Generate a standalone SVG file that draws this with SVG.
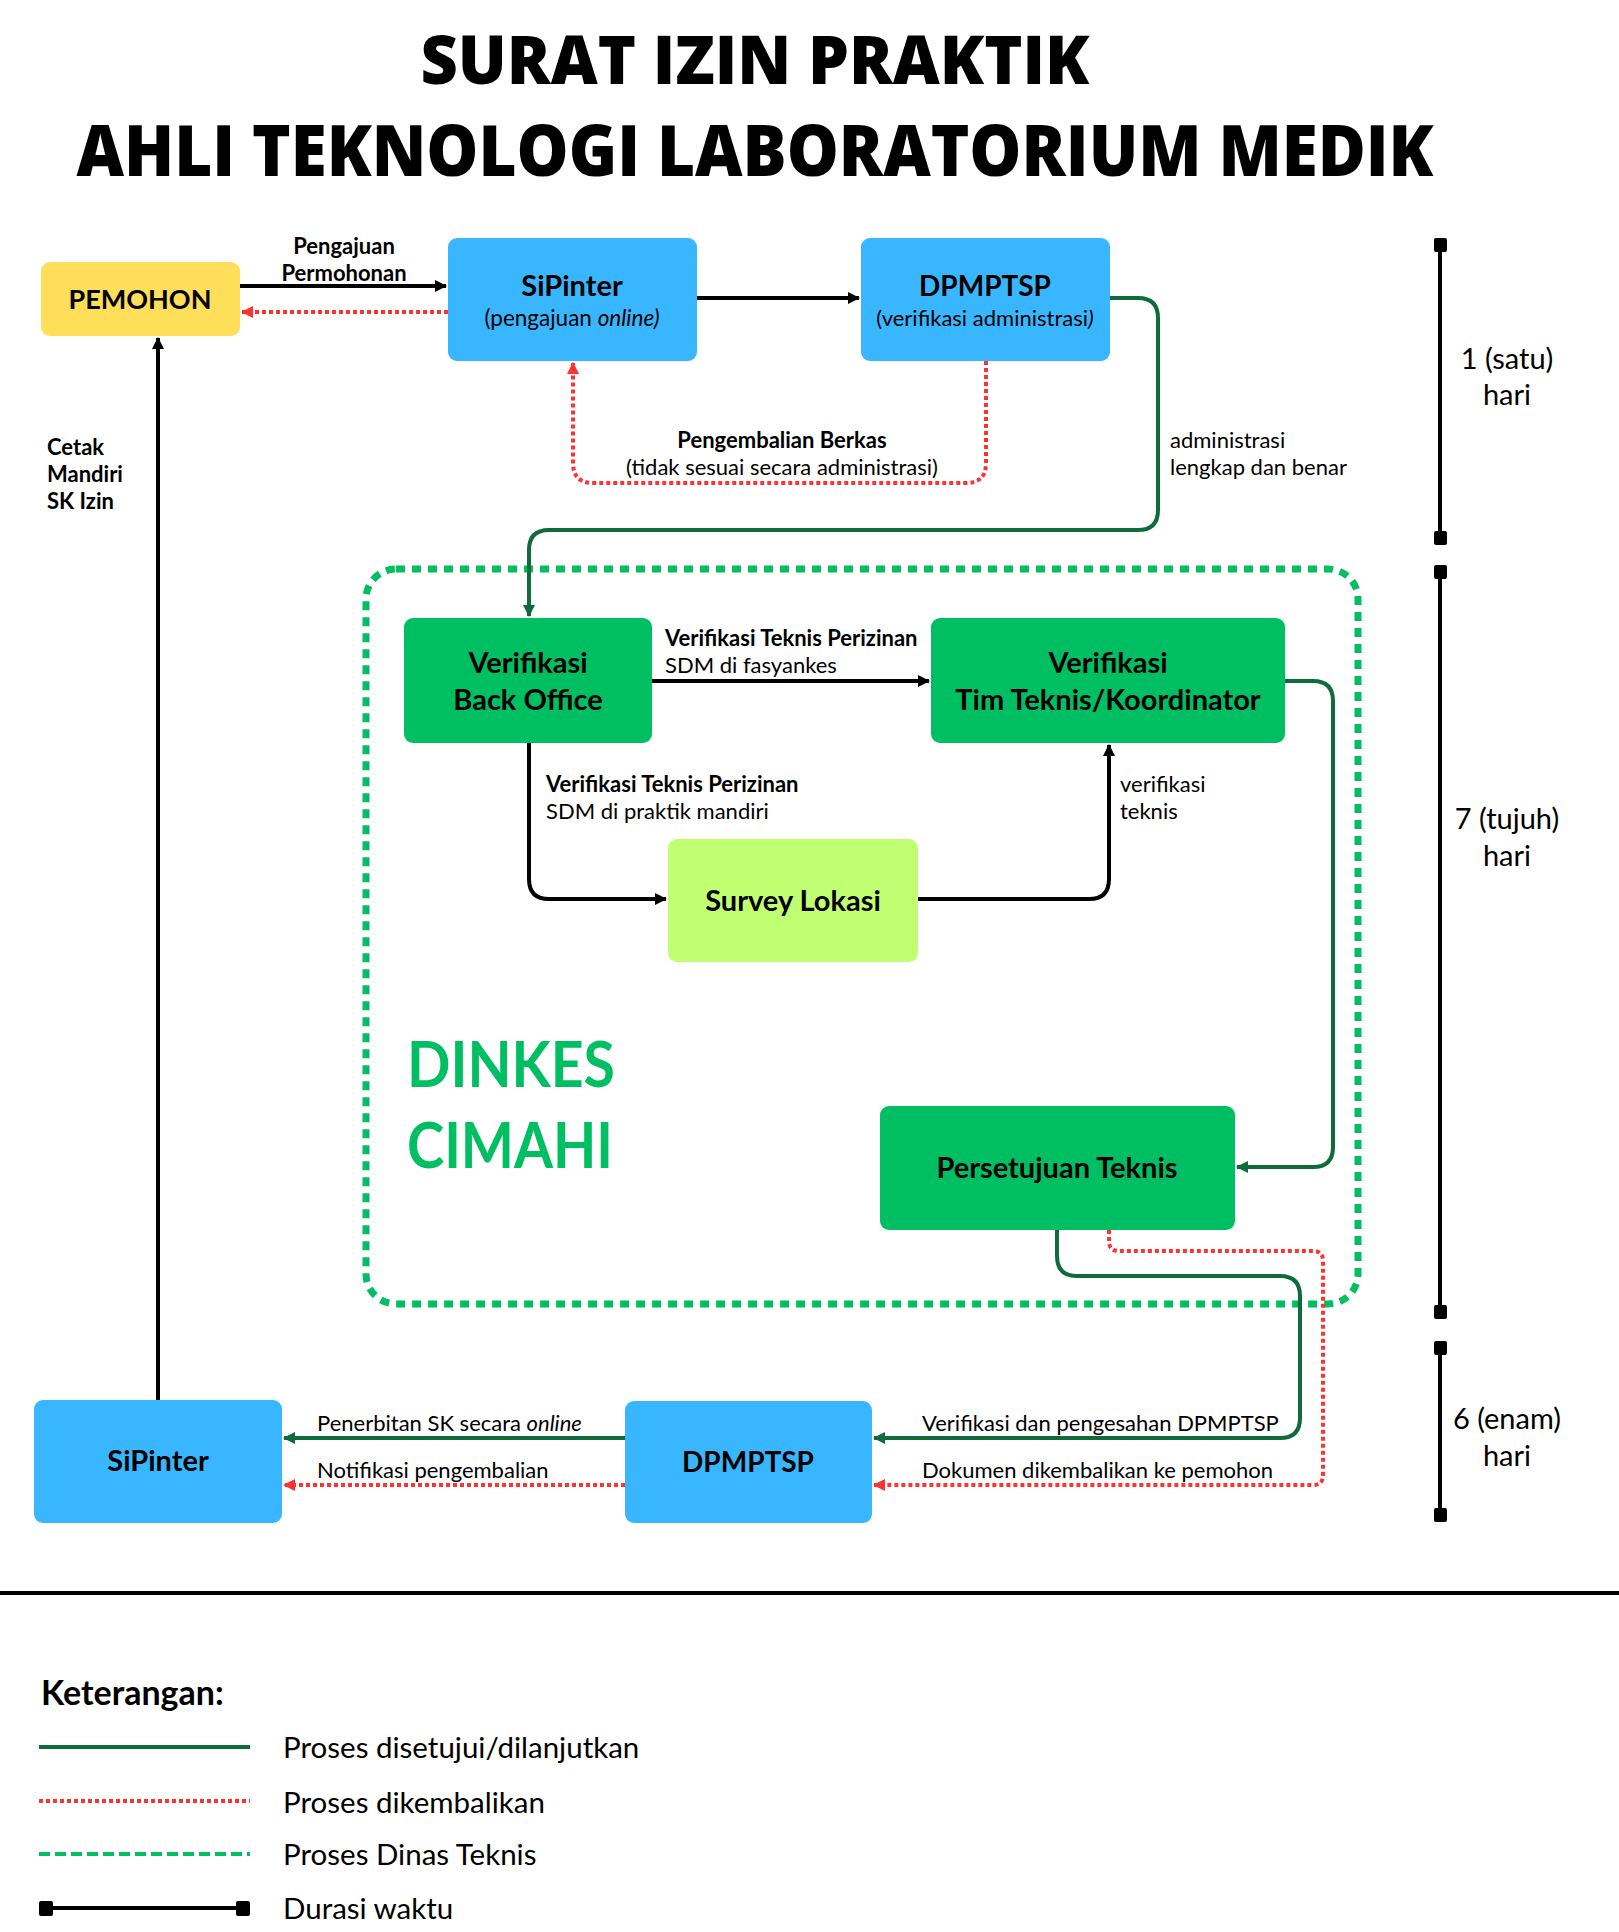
<svg xmlns="http://www.w3.org/2000/svg" width="1619" height="1932" viewBox="0 0 1619 1932">
<style>
.t{font-family:"Open Sans","Liberation Sans",sans-serif;font-weight:800;fill:#000}
.nb{font-family:Lato,"Liberation Sans",sans-serif;font-weight:700;fill:#000;text-anchor:middle}
.nr{font-family:Lato,"Liberation Sans",sans-serif;font-weight:400;fill:#000;text-anchor:middle}
.lb{font-family:Lato,"Liberation Sans",sans-serif;font-weight:700;fill:#000;font-size:22px}
.lr{font-family:Lato,"Liberation Sans",sans-serif;font-weight:400;fill:#000;font-size:22px}
.lg{font-family:Lato,"Liberation Sans",sans-serif;font-weight:400;fill:#000;font-size:29.5px}
.blk{fill:none;stroke:#000;stroke-width:4}
.grn{fill:none;stroke:#0F6B3A;stroke-width:4}
.red{fill:none;stroke:#FF3131;stroke-width:4;stroke-dasharray:4 3}
.cap{fill:#000}
</style>
<defs>
<marker id="ab" markerUnits="userSpaceOnUse" markerWidth="16" markerHeight="16" refX="13" refY="8" orient="auto"><path d="M2,2 L14,8 L2,14 Z" fill="#000"/></marker>
<marker id="ag" markerUnits="userSpaceOnUse" markerWidth="16" markerHeight="16" refX="13" refY="8" orient="auto"><path d="M2,2 L14,8 L2,14 Z" fill="#0F6B3A"/></marker>
<marker id="ar" markerUnits="userSpaceOnUse" markerWidth="16" markerHeight="16" refX="13" refY="8" orient="auto"><path d="M2,2 L14,8 L2,14 Z" fill="#FF3131"/></marker>
</defs>
<rect width="1619" height="1932" fill="#fff"/>
<text class="t" x="755" y="84" font-size="68" text-anchor="middle" textLength="669" lengthAdjust="spacingAndGlyphs">SURAT IZIN PRAKTIK</text>
<text class="t" x="755" y="176" font-size="70" text-anchor="middle" textLength="1357" lengthAdjust="spacingAndGlyphs">AHLI TEKNOLOGI LABORATORIUM MEDIK</text>

<rect x="366" y="569" width="992" height="735" rx="30" fill="none" stroke="#00BF63" stroke-width="7" stroke-dasharray="9 7"/>
<text x="407" y="1087" font-family="Lato,'Liberation Sans',sans-serif" font-weight="700" font-size="63" fill="#00BF63" textLength="208" lengthAdjust="spacingAndGlyphs">DINKES</text>
<text x="407" y="1168" font-family="Lato,'Liberation Sans',sans-serif" font-weight="700" font-size="63" fill="#00BF63" textLength="206" lengthAdjust="spacingAndGlyphs">CIMAHI</text>

<g id="connectors">
<path class="blk" d="M240,286 H446" marker-end="url(#ab)"/>
<path class="red" d="M448,312 H242" marker-end="url(#ar)"/>
<path class="blk" d="M697,298 H859" marker-end="url(#ab)"/>
<path class="red" d="M986,361 V463 Q986,483 966,483 H593 Q573,483 573,463 V363" marker-end="url(#ar)"/>
<path class="grn" d="M1110,298 H1138 Q1158,298 1158,318 V510 Q1158,530 1138,530 H549 Q529,530 529,550 V616" marker-end="url(#ag)"/>
<path class="blk" d="M652,681 H929" marker-end="url(#ab)"/>
<path class="blk" d="M529,743 V879 Q529,899 549,899 H666" marker-end="url(#ab)"/>
<path class="blk" d="M918,899 H1089 Q1109,899 1109,879 V745" marker-end="url(#ab)"/>
<path class="grn" d="M1285,681 H1313 Q1333,681 1333,701 V1147 Q1333,1167 1313,1167 H1237" marker-end="url(#ag)"/>
<path class="grn" d="M1057,1230 V1256 Q1057,1276 1077,1276 H1280 Q1300,1276 1300,1296 V1418 Q1300,1438 1280,1438 H874" marker-end="url(#ag)"/>
<path class="red" d="M1109,1230 V1241 Q1109,1251 1119,1251 H1313 Q1323,1251 1323,1261 V1475 Q1323,1485 1313,1485 H874" marker-end="url(#ar)"/>
<path class="grn" d="M625,1438 H284" marker-end="url(#ag)"/>
<path class="red" d="M625,1485 H284" marker-end="url(#ar)"/>
<path class="blk" d="M158,1400 V338" marker-end="url(#ab)"/>

<text class="lb" x="344" y="254" text-anchor="middle">Pengajuan</text>
<text class="lb" x="344" y="281" text-anchor="middle">Permohonan</text>
<text class="lb" x="782" y="448" text-anchor="middle">Pengembalian Berkas</text>
<text class="lr" x="782" y="475" text-anchor="middle">(tidak sesuai secara administrasi)</text>
<text class="lr" x="1170" y="448">administrasi</text>
<text class="lr" x="1170" y="475">lengkap dan benar</text>
<text class="lb" x="665" y="646">Verifikasi Teknis Perizinan</text>
<text class="lr" x="665" y="673">SDM di fasyankes</text>
<text class="lb" x="546" y="792">Verifikasi Teknis Perizinan</text>
<text class="lr" x="546" y="819">SDM di praktik mandiri</text>
<text class="lr" x="1120" y="792">verifikasi</text>
<text class="lr" x="1120" y="819">teknis</text>
<text class="lr" x="922" y="1431">Verifikasi dan pengesahan DPMPTSP</text>
<text class="lr" x="922" y="1478">Dokumen dikembalikan ke pemohon</text>
<text class="lr" x="317" y="1431">Penerbitan SK secara <tspan font-style="italic">online</tspan></text>
<text class="lr" x="317" y="1478">Notifikasi pengembalian</text>
<text class="lb" x="47" y="455">Cetak</text>
<text class="lb" x="47" y="482">Mandiri</text>
<text class="lb" x="47" y="509">SK Izin</text>
</g>

<g id="pemohon"><rect x="41" y="262" width="199" height="74" rx="9" fill="#FFDE59"/><text class="nb" x="140" y="309" font-size="27">PEMOHON</text></g>
<g id="sipinter-top"><rect x="448" y="238" width="249" height="123" rx="9" fill="#38B6FF"/><text class="nb" x="572" y="296" font-size="29">SiPinter</text><text class="nr" x="572" y="326" font-size="22.5">(pengajuan <tspan font-style="italic">online)</tspan></text></g>
<g id="dpmptsp-top"><rect x="861" y="238" width="249" height="123" rx="9" fill="#38B6FF"/><text class="nb" x="985" y="296" font-size="28">DPMPTSP</text><text class="nr" x="985" y="326" font-size="22">(verifikasi administrasi<tspan font-style="italic">)</tspan></text></g>
<g id="back-office"><rect x="404" y="618" width="248" height="125" rx="9" fill="#00BF63"/><text class="nb" x="528" y="673" font-size="29">Verifikasi</text><text class="nb" x="528" y="710" font-size="29">Back Office</text></g>
<g id="tim-teknis"><rect x="931" y="618" width="354" height="125" rx="9" fill="#00BF63"/><text class="nb" x="1108" y="673" font-size="29">Verifikasi</text><text class="nb" x="1108" y="710" font-size="29">Tim Teknis/Koordinator</text></g>
<g id="survey"><rect x="668" y="839" width="250" height="123" rx="9" fill="#C1FF72"/><text class="nb" x="793" y="911" font-size="29">Survey Lokasi</text></g>
<g id="persetujuan"><rect x="880" y="1106" width="355" height="124" rx="9" fill="#00BF63"/><text class="nb" x="1057" y="1178" font-size="29">Persetujuan Teknis</text></g>
<g id="dpmptsp-bottom"><rect x="625" y="1401" width="247" height="122" rx="9" fill="#38B6FF"/><text class="nb" x="748" y="1472" font-size="28">DPMPTSP</text></g>
<g id="sipinter-bottom"><rect x="34" y="1400" width="248" height="123" rx="9" fill="#38B6FF"/><text class="nb" x="158" y="1471" font-size="29">SiPinter</text></g>

<g id="timeline">
<line x1="1440" y1="245" x2="1440" y2="538" stroke="#000" stroke-width="4"/>
<rect class="cap" x="1434" y="238" width="13" height="14" rx="2"/><rect class="cap" x="1434" y="531" width="13" height="14" rx="2"/>
<line x1="1440" y1="572" x2="1440" y2="1312" stroke="#000" stroke-width="4"/>
<rect class="cap" x="1434" y="565" width="13" height="14" rx="2"/><rect class="cap" x="1434" y="1305" width="13" height="14" rx="2"/>
<line x1="1440" y1="1348" x2="1440" y2="1515" stroke="#000" stroke-width="4"/>
<rect class="cap" x="1434" y="1341" width="13" height="14" rx="2"/><rect class="cap" x="1434" y="1508" width="13" height="14" rx="2"/>
<text class="nr" x="1507" y="369" font-size="29">1 (satu)</text><text class="nr" x="1507" y="405" font-size="29">hari</text>
<text class="nr" x="1507" y="829" font-size="29">7 (tujuh)</text><text class="nr" x="1507" y="866" font-size="29">hari</text>
<text class="nr" x="1507" y="1429" font-size="29">6 (enam)</text><text class="nr" x="1507" y="1466" font-size="29">hari</text>
</g>

<line x1="0" y1="1593" x2="1619" y2="1593" stroke="#000" stroke-width="4"/>

<g id="legend">
<text x="41" y="1705" font-family="Lato,'Liberation Sans',sans-serif" font-weight="700" font-size="34">Keterangan:</text>
<line x1="39" y1="1747" x2="250" y2="1747" stroke="#0F6B3A" stroke-width="4"/>
<line x1="39" y1="1801" x2="250" y2="1801" stroke="#FF3131" stroke-width="4" stroke-dasharray="4 3"/>
<line x1="39" y1="1854" x2="250" y2="1854" stroke="#00BF63" stroke-width="4" stroke-dasharray="11 5"/>
<line x1="45" y1="1908" x2="244" y2="1908" stroke="#000" stroke-width="4"/>
<rect class="cap" x="39" y="1901" width="14" height="15" rx="2"/><rect class="cap" x="236" y="1901" width="14" height="15" rx="2"/>
<text class="lg" x="283" y="1758">Proses disetujui/dilanjutkan</text>
<text class="lg" x="283" y="1813">Proses dikembalikan</text>
<text class="lg" x="283" y="1865">Proses Dinas Teknis</text>
<text class="lg" x="283" y="1919">Durasi waktu</text>
</g>
</svg>
